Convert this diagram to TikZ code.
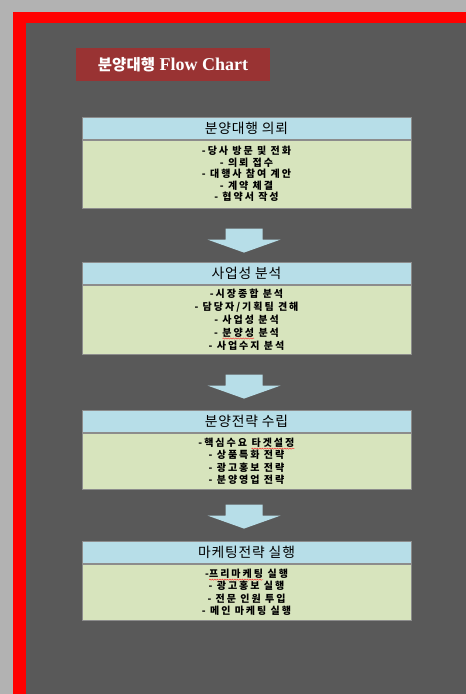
\documentclass[tikz,border=0pt]{standalone}
\usepackage{fontspec}
\setmainfont{Liberation Serif}
\newfontfamily\kr{Noto Sans CJK KR}
\newfontfamily\krsp[LetterSpace=20]{Noto Sans CJK KR}
\newfontfamily\krhd[LetterSpace=6]{Noto Sans CJK KR}
\usetikzlibrary{calc,decorations.pathmorphing}
\definecolor{outergray}{HTML}{B2B2B2}
\definecolor{pagered}{HTML}{FF0000}
\definecolor{darkbg}{HTML}{595959}
\definecolor{titlered}{HTML}{993333}
\definecolor{headblue}{HTML}{B7DEE8}
\definecolor{bodygreen}{HTML}{D7E4BD}
\definecolor{boxline}{HTML}{8C8C8C}
\tikzset{
  headbox/.style={draw=boxline, line width=0.8pt, fill=headblue, minimum width=329pt, minimum height=22pt, inner sep=0pt, anchor=north, font=\krhd\fontsize{13.8}{15}\selectfont, text=black},
  bodybox/.style={draw=boxline, line width=0.8pt, fill=bodygreen, minimum width=329pt, inner sep=0pt, anchor=north, align=center, text=black},
  flowarrow/.style={fill=headblue, draw=none},
  wavy/.style={draw=red!85!white, line width=0.4pt, decorate, decoration={snake, amplitude=0.6pt, segment length=2.5pt}},
}
\newcommand\spellerr[1]{\tikz[baseline=(w.base),x=1pt,y=1pt]{\node[inner sep=0pt,outer sep=0pt,minimum width=0pt,minimum height=0pt,draw=none,fill=none] (w) {#1};\draw[wavy] ($(w.base west)+(0,-2.2)$) -- ($(w.base east)+(0,-2.2)$);}}
\newcommand\flowarr[1]{%
  \fill[flowarrow] ($(#1)+(-18.5,0)$) -- ($(#1)+(18.5,0)$) -- ($(#1)+(18.5,11)$) -- ($(#1)+(36.5,11)$) -- ($(#1)+(0,24)$) -- ($(#1)+(-36.5,11)$) -- ($(#1)+(-18.5,11)$) -- cycle;}
\begin{document}
\begin{tikzpicture}[x=1pt,y=-1pt]
\useasboundingbox (0,0) rectangle (466,694);
\fill[outergray] (0,0) rectangle (466,694);
\fill[pagered] (13,12) rectangle (466,694);
\fill[darkbg] (26,23) rectangle (466,694);
% title
\node[fill=titlered, minimum width=194pt, minimum height=33pt, inner sep=0pt, text=white, font=\bfseries\fontsize{18}{20}\selectfont] (title) at (173,64.5) {{\kr\bfseries\fontsize{15.5}{18}\selectfont 분양대행} Flow Chart};
% box 1
\node[headbox] (h1) at (246.5,117) {분양대행 의뢰};
\node[bodybox, minimum height=68pt, font=\krsp\bfseries\fontsize{10}{11.5}\selectfont] (b1) at (h1.south) {-당사 방문 및 전화\\- 의뢰 접수\\- 대행사 참여 계안\\- 계약 체결\\- 협약서 작성};
% box 2
\node[headbox] (h2) at (246.5,262) {사업성 분석};
\node[bodybox, minimum height=69pt, font=\krsp\bfseries\fontsize{10}{12.8}\selectfont] (b2) at (h2.south) {-시장종합 분석\\- 담당자/기획팀 견해\\- 사업성 분석\\- \spellerr{분양성} 분석\\- 사업수지 분석};
% box 3
\node[headbox] (h3) at (246.5,410) {분양전략 수립};
\node[bodybox, minimum height=56pt, font=\krsp\bfseries\fontsize{10}{12.3}\selectfont] (b3) at (h3.south) {-핵심수요 \spellerr{타겟설정}\\- 상품특화 전략\\- 광고홍보 전략\\- 분양영업 전략};
% box 4
\node[headbox] (h4) at (246.5,541) {마케팅전략 실행};
\node[bodybox, minimum height=56pt, font=\krsp\bfseries\fontsize{10}{12.3}\selectfont] (b4) at (h4.south) {-\spellerr{프리마케팅} 실행\\- 광고홍보 실행\\- 전문 인원 투입\\- 메인 마케팅 실행};
% arrows
\coordinate (a1) at ($(b1.south)+(-2.5,20)$);
\coordinate (a2) at ($(b2.south)+(-2.5,20)$);
\coordinate (a3) at ($(b3.south)+(-2.5,15)$);
\flowarr{a1}
\flowarr{a2}
\flowarr{a3}
\end{tikzpicture}
\end{document}
